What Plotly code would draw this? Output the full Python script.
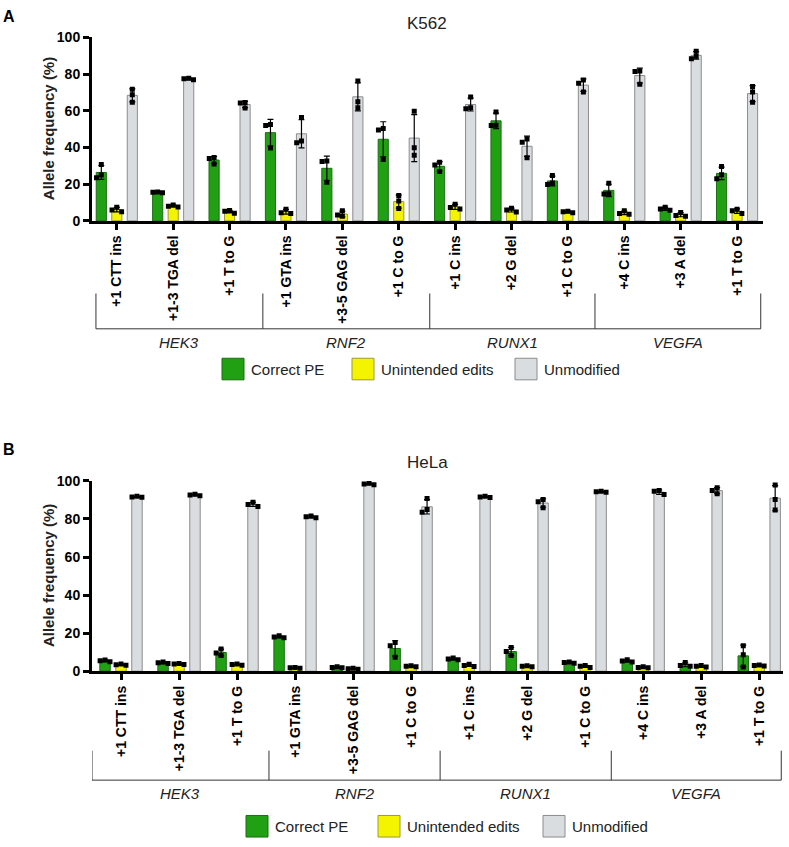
import numpy as np
import plotly.graph_objects as go

# ---------------- data ----------------
edits = ["+1 CTT ins", "+1-3 TGA del", "+1 T to G", "+1 GTA ins", "+3-5 GAG del", "+1 C to G",
         "+1 C ins", "+2 G del", "+1 C to G", "+4 C ins", "+3 A del", "+1 T to G"]
genes = ["HEK3", "RNF2", "RUNX1", "VEGFA"]
series_names = ["Correct PE", "Unintended edits", "Unmodified"]

# replicate values (%), three per edit
k562_pe = [[30.7, 25.0, 23.5], [15.8, 15.3, 15.6], [34.5, 34.0, 31.0], [52.6, 52.0, 39.7],
           [32.6, 32.4, 21.0], [50.4, 49.6, 33.5], [31.9, 30.5, 26.9], [59.4, 52.2, 52.0],
           [24.8, 20.7, 19.8], [20.5, 14.8, 14.6], [7.5, 6.5, 5.8], [29.6, 25.1, 23.0]]
k562_ue = [[7.4, 6.0, 5.0], [8.6, 8.0, 7.6], [5.6, 5.3, 4.2], [6.4, 4.5, 4.0],
           [5.5, 3.2, 2.5], [13.9, 10.9, 6.8], [9.1, 7.3, 6.5], [6.9, 6.0, 4.8],
           [5.2, 5.0, 4.4], [5.5, 4.0, 3.6], [4.6, 3.0, 2.5], [6.4, 5.5, 4.0]]
k562_un = [[71.8, 68.8, 64.7], [77.8, 77.5, 77.0], [64.5, 64.3, 61.5], [56.3, 43.5, 42.6],
           [76.3, 64.9, 61.7], [59.7, 39.9, 35.8], [67.5, 61.7, 61.1], [44.7, 42.9, 34.4],
           [76.8, 75.0, 70.2], [81.7, 81.4, 74.5], [92.5, 89.8, 88.4], [73.3, 70.2, 64.7]]

hela_pe = [[5.9, 5.5, 5.0], [4.8, 4.4, 4.0], [11.7, 9.6, 8.2], [18.6, 18.0, 17.6],
           [2.3, 2.0, 1.8], [15.1, 13.4, 7.4], [6.9, 6.4, 6.0], [12.5, 10.3, 8.2],
           [4.9, 4.6, 4.2], [6.0, 5.4, 4.8], [4.6, 3.0, 2.6], [13.4, 8.6, 2.2]]
hela_ue = [[3.8, 3.4, 3.1], [4.1, 3.8, 3.5], [3.8, 3.5, 3.2], [2.0, 1.8, 1.6],
           [1.5, 1.3, 1.1], [2.9, 2.6, 2.3], [3.6, 3.0, 2.5], [2.9, 2.6, 2.4],
           [3.0, 2.6, 2.0], [2.3, 2.0, 1.8], [3.0, 2.6, 2.2], [3.3, 3.0, 2.8]]
hela_un = [[91.9, 91.6, 91.4], [93.0, 92.6, 92.2], [88.8, 87.6, 86.6], [81.6, 81.1, 80.6],
           [98.7, 98.4, 98.0], [90.7, 85.0, 83.5], [91.9, 91.6, 91.3], [90.2, 89.0, 85.9],
           [94.5, 94.3, 94.0], [95.0, 94.5, 92.8], [96.4, 95.0, 93.3], [97.9, 90.2, 84.7]]

# ---------------- style ----------------
W, H = 789, 847
FILL = ["#22a014", "#f4f400", "#d9dddf"]
EDGE = ["#1b6e12", "#9a9a3a", "#8c8c8c"]
OFFS = [-0.275, 0.0, 0.275]
BARW = 0.18
FONT = "Liberation Sans, Arial, sans-serif"


def py(p):
    return 1 - p / H


def px(p):
    return p / W


panels = [
    dict(name="K562", letter="A", data=[k562_pe, k562_ue, k562_un],
         xdom=(92, 763), ydom=(30, 217), xr=(-0.44, 11.46),
         br_top=291, br_bot=327, br_x=[-0.37, 2.59, 5.55, 8.48, 11.42],
         gl_y=341, lg_y=368, lg_x=[222, 352, 515], title_y=16, letter_y=9),
    dict(name="HeLa", letter="B", data=[hela_pe, hela_ue, hela_un],
         xdom=(92, 783), ydom=(482, 676), xr=(-0.5, 11.41),
         br_top=757, br_bot=787, br_x=[-0.5, 2.55, 5.5, 8.45, 11.38],
         gl_y=801, lg_y=834, lg_x=[246, 378, 543], title_y=463, letter_y=450),
]

fig = go.Figure()
shapes, annots = [], []
x0 = np.arange(len(edits))

for k, P in enumerate(panels):
    xa = "x" if k == 0 else "x2"
    ya = "y" if k == 0 else "y2"
    for s, reps in enumerate(P["data"]):
        arr = np.array(reps)
        mean = arr.mean(axis=1)
        sd = arr.std(axis=1, ddof=1)
        fig.add_trace(go.Bar(
            x=x0 + OFFS[s], y=mean, width=BARW, xaxis=xa, yaxis=ya,
            marker=dict(color=FILL[s], line=dict(color=EDGE[s], width=1)),
            error_y=dict(type="data", array=sd, visible=True, color="black", thickness=1.2, width=3),
            showlegend=False, name=series_names[s]))
        # beeswarm-like placement of replicate points
        pxu = (P["ydom"][1] - P["ydom"][0]) / 100.0
        d = 0.085
        xs, ys = [], []
        for i, trip in enumerate(reps):
            placed = []
            for v in sorted(trip, reverse=True):
                for o in [0, -d, d, -2 * d, 2 * d]:
                    ok = all(not (abs(o - po) < d * 0.9 and abs(v - pv) * pxu < 5) for po, pv in placed)
                    if ok:
                        placed.append((o, v))
                        break
            for o, v in placed:
                xs.append(i + OFFS[s] + o)
                ys.append(v)
        fig.add_trace(go.Scatter(
            x=xs, y=ys, mode="markers", xaxis=xa, yaxis=ya,
            marker=dict(symbol="square", size=5, color="black"),
            showlegend=False, hoverinfo="skip"))

    # brackets under gene groups
    bx = P["br_x"]
    for xv in bx:
        shapes.append(dict(type="line", xref=xa, yref="paper", x0=xv, x1=xv,
                           y0=py(P["br_top"]), y1=py(P["br_bot"]), line=dict(color="#333", width=1)))
    shapes.append(dict(type="line", xref=xa, yref="paper", x0=bx[0], x1=bx[-1],
                       y0=py(P["br_bot"]), y1=py(P["br_bot"]), line=dict(color="#333", width=1)))
    for g, gname in enumerate(genes):
        annots.append(dict(text=f"<i>{gname}</i>", xref=xa, yref="paper",
                           x=(bx[g] + bx[g + 1]) / 2, y=py(P["gl_y"]), showarrow=False,
                           font=dict(family=FONT, size=15, color="#222")))
    # title and panel letter
    annots.append(dict(text=P["name"], xref="paper", yref="paper", x=px(427), y=py(P["title_y"]),
                       showarrow=False, font=dict(family=FONT, size=17, color="#222")))
    annots.append(dict(text=f"<b>{P['letter']}</b>", xref="paper", yref="paper", x=px(9), y=py(P["letter_y"]),
                       showarrow=False, font=dict(family=FONT, size=16, color="black")))
    # y-axis title
    annots.append(dict(text="<b>Allele frequency (%)</b>", xref="paper", yref="paper", textangle=-90,
                       x=px(48), y=py((P["ydom"][0] + P["ydom"][1]) / 2), showarrow=False,
                       font=dict(family=FONT, size=15, color="#222")))
    # legend
    for s, lx in enumerate(P["lg_x"]):
        shapes.append(dict(type="rect", xref="paper", yref="paper", x0=px(lx), x1=px(lx + 22),
                           y0=py(P["lg_y"] + 11), y1=py(P["lg_y"] - 11),
                           fillcolor=FILL[s], line=dict(color=EDGE[s], width=1)))
        annots.append(dict(text=series_names[s], xref="paper", yref="paper", x=px(lx + 27), y=py(P["lg_y"]),
                           xanchor="left", showarrow=False,
                           font=dict(family=FONT, size=15, color="#222")))

    tf = dict(family=FONT, size=14, color="black", weight="bold")
    axis_x = dict(domain=[px(P["xdom"][0]), px(P["xdom"][1])], range=list(P["xr"]),
                  tickmode="array", tickvals=list(x0), ticktext=edits, tickangle=-90,
                  ticks="outside", ticklen=6, tickwidth=2.5, tickcolor="black",
                  showline=True, linewidth=3, linecolor="black", showgrid=False, zeroline=False,
                  tickfont=tf, anchor=ya)
    axis_y = dict(domain=[py(P["ydom"][1]), py(P["ydom"][0])], range=[0, 100], dtick=20,
                  ticks="outside", ticklen=6, tickwidth=3, tickcolor="black",
                  showline=True, linewidth=3, linecolor="black", showgrid=False, zeroline=False,
                  tickfont=tf, anchor=xa)
    if k == 0:
        fig.update_layout(xaxis=axis_x, yaxis=axis_y)
    else:
        fig.update_layout(xaxis2=axis_x, yaxis2=axis_y)

for a in annots:
    a.setdefault("xanchor", "center")
    a.setdefault("yanchor", "middle")

fig.update_layout(width=W, height=H, margin=dict(l=0, r=0, t=0, b=0),
                  paper_bgcolor="white", plot_bgcolor="white",
                  shapes=shapes, annotations=annots, showlegend=False,
                  font=dict(family=FONT, color="black"))
fig.write_html("out.html", config={"displayModeBar": False},
               post_script="document.body.style.margin='0';document.body.style.overflow='hidden';")
